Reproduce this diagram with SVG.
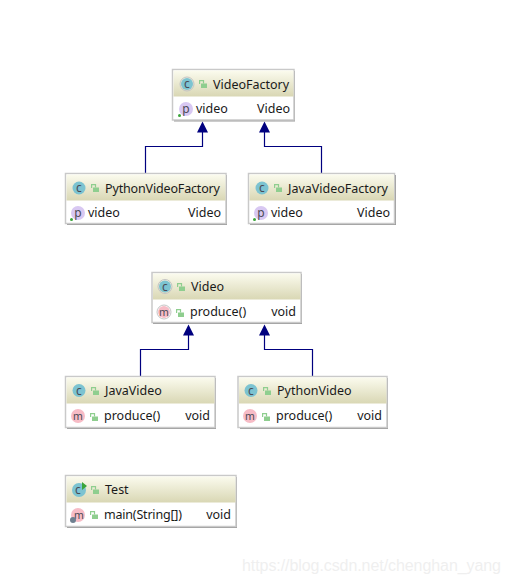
<svg xmlns="http://www.w3.org/2000/svg" width="509" height="583" viewBox="0 0 509 583">
<style>
text{font-family:"Noto Sans","DejaVu Sans",sans-serif;font-size:12.5px;fill:#1a1a1a}
.box{fill:#fff;stroke:#c9c9c9;stroke-width:1.5}
.shadow{fill:#9a9a9a}
.hd{fill:url(#hg)}
.cc{fill:#7cc3d1}
.ring{fill:none;stroke:#c4c4c4;stroke-width:1}
.pp{fill:#d8c8f2}
.mm{fill:#f7bcc6}
.ic{font-size:12px;text-anchor:middle;fill:#4a4a55}
.e{text-anchor:end}
.lk{fill:#8fce8f}
.lks{fill:none;stroke:#8fce8f;stroke-width:1.200}
.dot{fill:#3aa53a}
.line{fill:none;stroke:#00007f;stroke-width:1.2}
.head{fill:#00007f}
.wm{font-family:"Liberation Sans",Arial,sans-serif;font-size:16px;fill:#efefef}
</style>
<defs>
<linearGradient id="hg" x1="0" y1="0" x2="0" y2="1"><stop offset="0" stop-color="#fbfbee"/><stop offset="1" stop-color="#d9d7b4"/></linearGradient>
<g id="lock"><rect class="lk" x="2" y="3.500" width="6" height="4.500"/><path class="lks" d="M.6 4V.6H4.500V3.500"/></g>
<polygon id="tri" class="head" points="0,0 5.500,11 -5.500,11"/>
</defs>
<g id="connectors">
<path class="line" d="M145.500 173V146.500H202.500V132"/><use href="#tri" x="202.500" y="121.500"/>
<path class="line" d="M321.500 173V146.500H264.500V132"/><use href="#tri" x="264.500" y="121.500"/>
<path class="line" d="M140.500 376V349.500H188.500V335"/><use href="#tri" x="188.500" y="324.500"/>
<path class="line" d="M312.500 376V349.500H264.500V335"/><use href="#tri" x="264.500" y="324.500"/>
</g>
<g id="VideoFactory">
<rect class="shadow" x="174" y="71" width="121" height="50.500"/><rect class="box" x="172.500" y="69.500" width="121.500" height="50.500"/><rect class="hd" x="173.500" y="70.500" width="120" height="26"/>
<circle class="cc" cx="187" cy="84" r="6"/><circle class="ring" cx="187" cy="84" r="7"/><text class="ic" x="187" y="88">c</text><use href="#lock" x="199" y="80"/>
<text x="213" y="88.500">VideoFactory</text>
<circle class="pp" cx="186" cy="109" r="7"/><text class="ic" x="186" y="112.500">p</text><circle class="dot" cx="179.500" cy="115.500" r="1.500"/>
<text x="196" y="113">video</text><text class="e" x="290" y="113">Video</text>
</g>
<g id="PythonVideoFactory">
<rect class="shadow" x="67" y="175" width="160" height="50"/><rect class="box" x="65.500" y="173.500" width="160.500" height="50"/><rect class="hd" x="66.500" y="174.500" width="159" height="26"/>
<circle class="cc" cx="79" cy="188" r="6.500"/><text class="ic" x="79" y="192">c</text><use href="#lock" x="91" y="184"/>
<text x="105" y="192.500" textLength="115">PythonVideoFactory</text>
<circle class="pp" cx="78" cy="213" r="7"/><text class="ic" x="78" y="216.500">p</text><circle class="dot" cx="71.500" cy="219.500" r="1.500"/>
<text x="88" y="217">video</text><text class="e" x="221" y="217">Video</text>
</g>
<g id="JavaVideoFactory">
<rect class="shadow" x="250" y="175" width="146" height="50"/><rect class="box" x="248.500" y="173.500" width="146" height="50"/><rect class="hd" x="249.500" y="174.500" width="144.500" height="26"/>
<circle class="cc" cx="262" cy="188" r="6.500"/><text class="ic" x="262" y="192">c</text><use href="#lock" x="274" y="184"/>
<text x="288" y="192.500">JavaVideoFactory</text>
<circle class="pp" cx="261" cy="213" r="7"/><text class="ic" x="261" y="216.500">p</text><circle class="dot" cx="254.500" cy="219.500" r="1.500"/>
<text x="271" y="217">video</text><text class="e" x="390" y="217">Video</text>
</g>
<g id="Video">
<rect class="shadow" x="153" y="274" width="149" height="50"/><rect class="box" x="152" y="272.500" width="149" height="50"/><rect class="hd" x="153" y="273.500" width="147.500" height="26"/>
<circle class="cc" cx="165" cy="286.500" r="6"/><circle class="ring" cx="165" cy="286.500" r="7"/><text class="ic" x="165" y="290.500">c</text><use href="#lock" x="177" y="283"/>
<text x="191" y="291">Video</text>
<circle class="mm" cx="164" cy="312" r="6"/><circle class="ring" cx="164" cy="312" r="7"/><text class="ic" x="164" y="315.500" style="font-size:10.500px">m</text><use href="#lock" x="176" y="309"/>
<text x="190" y="316">produce()</text><text class="e" x="296" y="316">void</text>
</g>
<g id="JavaVideo">
<rect class="shadow" x="67" y="378" width="149" height="51"/><rect class="box" x="65.500" y="376.500" width="149.500" height="51"/><rect class="hd" x="66.500" y="377.500" width="148" height="26"/>
<circle class="cc" cx="79" cy="390.500" r="6.500"/><text class="ic" x="79" y="394.500">c</text><use href="#lock" x="91" y="387"/>
<text x="105" y="395">JavaVideo</text>
<circle class="mm" cx="78" cy="416" r="7"/><text class="ic" x="78" y="419.500" style="font-size:10.500px">m</text><use href="#lock" x="90" y="413"/>
<text x="104" y="420">produce()</text><text class="e" x="210" y="420">void</text>
</g>
<g id="PythonVideo">
<rect class="shadow" x="240" y="378" width="148" height="51"/><rect class="box" x="238" y="376.500" width="149" height="51"/><rect class="hd" x="239" y="377.500" width="147.500" height="26"/>
<circle class="cc" cx="251" cy="390.500" r="6.500"/><text class="ic" x="251" y="394.500">c</text><use href="#lock" x="263" y="387"/>
<text x="277" y="395">PythonVideo</text>
<circle class="mm" cx="250" cy="416" r="7"/><text class="ic" x="250" y="419.500" style="font-size:10.500px">m</text><use href="#lock" x="262" y="413"/>
<text x="276" y="420">produce()</text><text class="e" x="382" y="420">void</text>
</g>
<g id="Test">
<rect class="shadow" x="67" y="477" width="170" height="51"/><rect class="box" x="65.500" y="475.500" width="170.500" height="51"/><rect class="hd" x="66.500" y="476.500" width="169" height="26"/>
<circle class="cc" cx="79" cy="490" r="7"/><text class="ic" x="78" y="494">c</text><polygon class="dot" points="82,482 87,486 82,490"/><use href="#lock" x="91" y="486"/>
<text x="105" y="494">Test</text>
<circle class="mm" cx="78" cy="515" r="7"/><text class="ic" x="79" y="518.500" style="font-size:10.500px">m</text><circle cx="73" cy="520" r="3" fill="#6f8090"/><use href="#lock" x="90" y="511"/>
<text x="104" y="519" textLength="78">main(String[])</text><text class="e" x="231" y="519">void</text>
</g>
<text class="wm" x="242" y="571" textLength="259">https://blog.csdn.net/chenghan_yang</text>
</svg>
